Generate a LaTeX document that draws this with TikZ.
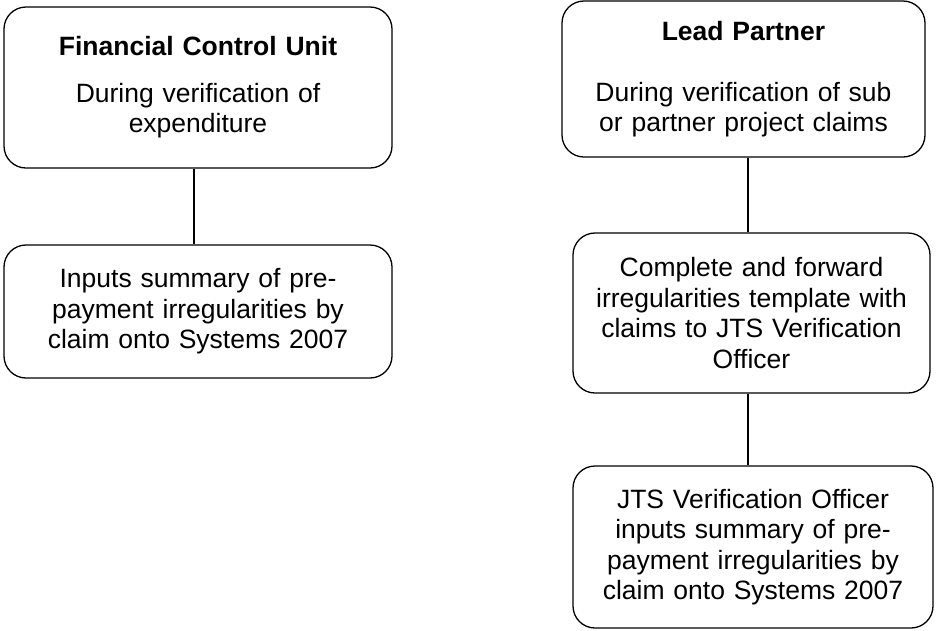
\documentclass[tikz,border=0pt]{standalone}
\usepackage{fontspec}
\setmainfont{Liberation Sans}

\begin{document}
\begin{tikzpicture}[x=1pt, y=-1pt,
    box/.style={draw, rounded corners=22pt, line width=1.3pt, align=center,
        font=\fontsize{26.5}{30.5}\selectfont, inner sep=0pt}]
        \useasboundingbox (0,0) rectangle (936,630);

        % Colonna sinistra
        \node[box, minimum width=388pt, minimum height=161pt, text width=370pt] (fcu) at (198, 87.5)
            {\textbf{Financial Control Unit}\\[16pt]During verification of\\expenditure};
        \node[box, minimum width=388pt, minimum height=133pt, text width=370pt] (fcuinput) at (198, 311.5)
            {Inputs summary of pre-\\payment irregularities by\\claim onto Systems 2007};

        % Colonna destra
        \node[box, minimum width=363pt, minimum height=156pt, text width=345pt] (lead) at (743.5, 79)
            {\textbf{Lead Partner}\\[30.5pt]During verification of sub\\or partner project claims};
        \node[box, minimum width=357pt, minimum height=160pt, text width=340pt] (template) at (751.5, 313)
            {Complete and forward\\irregularities template with\\claims to JTS Verification\\Officer};
        \node[box, minimum width=360pt, minimum height=162pt, text width=342pt] (jts) at (753, 547)
            {JTS Verification Officer\\inputs summary of pre-\\payment irregularities by\\claim onto Systems 2007};

        % Collegamenti
        \coordinate (leftspine) at (194, 0);
        \coordinate (spine) at (748, 0);
        \draw[line width=1.3pt] (fcu.south -| leftspine) -- (fcuinput.north -| leftspine);
        \draw[line width=1.3pt] (lead.south -| spine) -- (template.north -| spine);
        \draw[line width=1.3pt] (template.south -| spine) -- (jts.north -| spine);
    \end{tikzpicture}
\end{document}
